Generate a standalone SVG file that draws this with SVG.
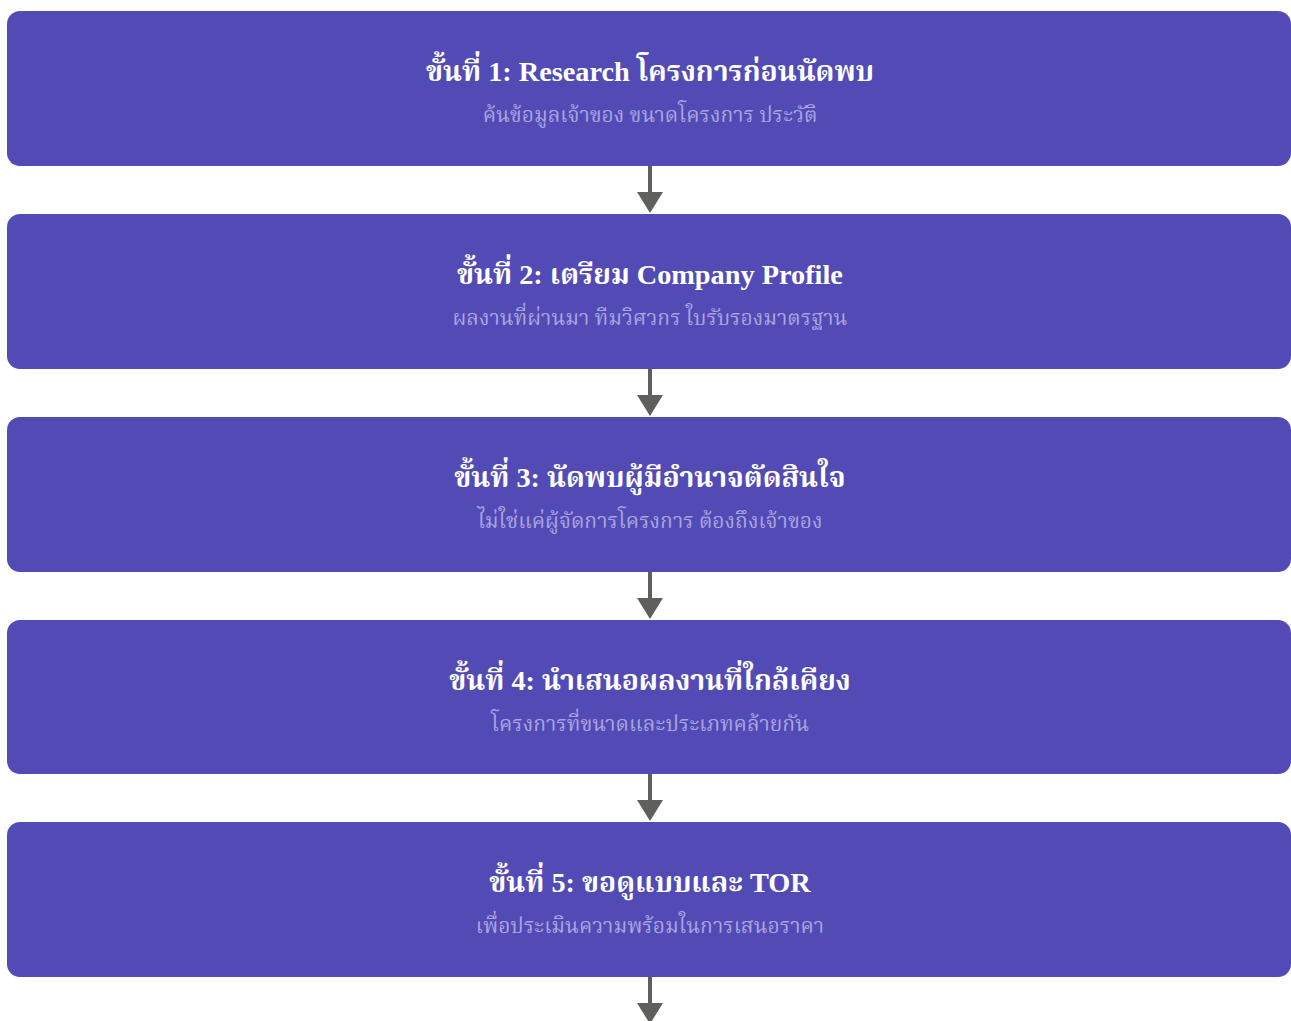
<svg xmlns="http://www.w3.org/2000/svg" width="1291" height="1021" viewBox="0 0 1291 1021">
<style>
.box{fill:#534bb5}
.t{font-family:"Liberation Serif","Noto Serif Thai","Times New Roman",serif;font-weight:bold;font-size:28.3px;fill:#ffffff;text-anchor:middle}
.s{font-family:"Liberation Serif","Noto Serif Thai","Times New Roman",serif;font-size:21px;fill:#aaa4e2;text-anchor:middle}
.c{stroke:#5f5f5c;stroke-width:4;fill:none}
.h{fill:#5f5f5c}
</style>
<rect width="1291" height="1021" fill="#ffffff"/>
<g id="connectors">
<line class="c" x1="650" y1="166" x2="650" y2="194"/><path class="h" d="M637,192 L663,192 L650,213 Z"/>
<line class="c" x1="650" y1="369" x2="650" y2="397"/><path class="h" d="M637,395 L663,395 L650,416 Z"/>
<line class="c" x1="650" y1="572" x2="650" y2="600"/><path class="h" d="M637,598 L663,598 L650,619 Z"/>
<line class="c" x1="650" y1="774" x2="650" y2="802"/><path class="h" d="M637,800 L663,800 L650,821 Z"/>
<line class="c" x1="650" y1="977" x2="650" y2="1005"/><path class="h" d="M637,1003 L663,1003 L650,1024 Z"/>
</g>
<g id="step1">
<rect class="box" x="7" y="11" width="1284" height="155" rx="13"/>
<text class="t" x="650" y="81">ขั้นที่ 1: Research โครงการก่อนนัดพบ</text>
<text class="s" x="650" y="122">ค้นข้อมูลเจ้าของ ขนาดโครงการ ประวัติ</text>
</g>
<g id="step2">
<rect class="box" x="7" y="214" width="1284" height="155" rx="13"/>
<text class="t" x="650" y="284">ขั้นที่ 2: เตรียม Company Profile</text>
<text class="s" x="650" y="325">ผลงานที่ผ่านมา ทีมวิศวกร ใบรับรองมาตรฐาน</text>
</g>
<g id="step3">
<rect class="box" x="7" y="417" width="1284" height="155" rx="13"/>
<text class="t" x="650" y="487">ขั้นที่ 3: นัดพบผู้มีอำนาจตัดสินใจ</text>
<text class="s" x="650" y="528">ไม่ใช่แค่ผู้จัดการโครงการ ต้องถึงเจ้าของ</text>
</g>
<g id="step4">
<rect class="box" x="7" y="620" width="1284" height="154" rx="13"/>
<text class="t" x="650" y="690">ขั้นที่ 4: นำเสนอผลงานที่ใกล้เคียง</text>
<text class="s" x="650" y="731">โครงการที่ขนาดและประเภทคล้ายกัน</text>
</g>
<g id="step5">
<rect class="box" x="7" y="822" width="1284" height="155" rx="13"/>
<text class="t" x="650" y="892">ขั้นที่ 5: ขอดูแบบและ TOR</text>
<text class="s" x="650" y="933">เพื่อประเมินความพร้อมในการเสนอราคา</text>
</g>
</svg>
